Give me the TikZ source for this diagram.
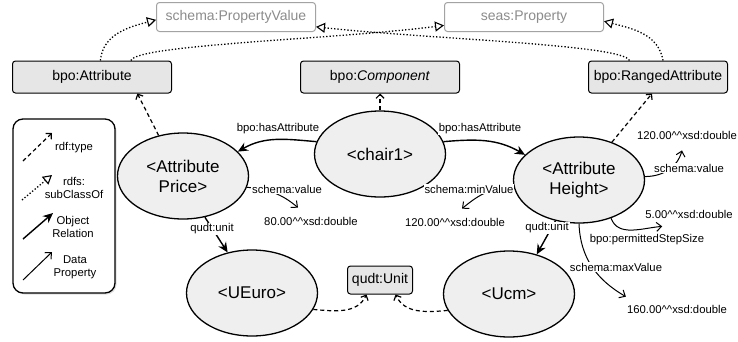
\documentclass[tikz,border=0pt]{standalone}
\usepackage{fontspec}
\setmainfont{Liberation Sans}
\usetikzlibrary{arrows.meta,shapes.geometric,shadows}

\definecolor{boxgray}{HTML}{E6E6E6}
\definecolor{ellgray}{HTML}{EFEFEF}
\definecolor{extgray}{HTML}{8C8C8C}

\tikzset{
  classbox/.style={draw=black, fill=boxgray, rounded corners=3pt, line width=1pt,
    minimum width=159pt, minimum height=32pt, inner sep=2pt, font=\fontsize{14}{16}\selectfont},
  extbox/.style={classbox, draw=extgray!80, fill=white, text=extgray, minimum height=29pt},
  inst/.style={ellipse, draw=black, fill=ellgray, line width=1.3pt, align=center,
    minimum width=131pt, minimum height=86pt, font=\fontsize{17}{20}\selectfont},
  lit/.style={inner sep=1pt, font=\fontsize{11.3}{13}\selectfont},
  elbl/.style={lit, fill=white},
  legtxt/.style={align=center, inner sep=0pt, font=\fontsize{11.3}{13}\selectfont},
  objrel/.style={draw=black, line width=1.4pt, -{Stealth[length=10pt,width=9pt]}},
  datarel/.style={draw=black, line width=1pt, -{Straight Barb[length=5pt,width=9pt]}},
  typerel/.style={draw=black, line width=1.2pt, dash pattern=on 4pt off 3pt, -{Straight Barb[length=4pt,width=8pt]}},
  subrel/.style={draw=black, line width=1.3pt, dash pattern=on 1.3pt off 2pt, -{Triangle[open,length=9pt,width=10pt,line width=1.1pt]}},
}

\begin{document}
\begin{tikzpicture}[x=1pt,y=-1pt]
    \useasboundingbox (0,0) rectangle (738,341);

     % classes
     \node[extbox] (PV) at (236,17) {schema:PropertyValue};
     \node[extbox] (SP) at (524,17) {seas:Property};
     \node[classbox] (BA) at (92,77) {bpo:Attribute};
     \node[classbox] (BC) at (380,77) {bpo:\textit{Component}};
     \node[classbox, minimum width=139pt] (BR) at (658,77) {bpo:RangedAttribute};
     \node[classbox, minimum width=65pt, minimum height=28pt] (QU) at (380,280) {qudt:Unit};

     % instances
     \node[inst] (CH) at (380,154) {<chair1>};
     \node[inst] (AP) at (183,176) {<Attribute\\Price>};
     \node[inst] (AH) at (579,180) {<Attribute\\Height>};
     \node[inst] (UE) at (252,293) {<UEuro>};
     \node[inst] (UC) at (509,294) {<Ucm>};

     % literals
     \node[lit] (V80)  at (311,221) {80.00\textasciicircum\textasciicircum xsd:double};
     \node[lit] (V120a) at (455,222) {120.00\textasciicircum\textasciicircum xsd:double};
     \node[lit] (V120b) at (687,135) {120.00\textasciicircum\textasciicircum xsd:double};
     \node[lit] (V5)   at (689,214) {5.00\textasciicircum\textasciicircum xsd:double};
     \node[lit] (V160) at (677,309) {160.00\textasciicircum\textasciicircum xsd:double};

     % subclass links
     \draw [subrel] (BA.63) to[out=85,in=195] (PV.-178);
     \draw [subrel] (BA.23) .. controls +(6,-16) and +(-110,14) .. (SP.-174);
     \draw [subrel] (BR.150) .. controls +(-6,-16) and +(110,12) .. (PV.-7);
     \draw [subrel] (BR.73) to[out=100,in=-15] (SP.-3);

     % types
     \draw [typerel] (CH.north) -- (BC.south);
     \draw [typerel] (AP.121) -- (BA.-20);
     \draw [typerel] (AH.49) -- (BR.-110);
     \draw [typerel] (UE.-15) to[out=-5,in=-115] (QU.-133);
     \draw [typerel] (UC.195) to[out=185,in=-65] (QU.-43);

     % object relations
     \draw [objrel] (CH.169) to[out=175,in=30] (AP.24);
     \draw [objrel] (CH.11) to[out=5,in=150] (AH.155);
     \draw [objrel] (AP.-62) -- (UE.121);
     \draw [objrel] (AH.-120) -- (UC.55);

     % data properties
     \draw [datarel] (AP.-10) to[out=-5,in=140] ([xshift=-13pt,yshift=8pt]V80.north);
     \draw [datarel] (AH.185) to[out=185,in=40] ([xshift=7pt,yshift=8pt]V120a.north);
     \draw [datarel] (AH.3) to[out=0,in=-105] ([xshift=-5pt,yshift=-10pt]V120b.south);
     \draw [datarel] (AH.-50) to[out=-70,in=185] ([xshift=18pt,yshift=-7pt]V5.south west);
     \draw [datarel] (AH.-90) to[out=-88,in=150] ([yshift=7pt]V160.north west);

     % edge labels
     \node[elbl] (L1) at (278,129) {bpo:hasAttribute};
     \node[elbl] (L2) at (480,129) {bpo:hasAttribute};
     \node[elbl] (L3) at (287,189) {schema:value};
     \node[elbl] (L4) at (469,189) {schema:minValue};
     \node[elbl] (L5) at (689,168) {schema:value};
     \node[lit]  (L6) at (647,240) {bpo:permittedStepSize};
     \node[elbl] (L7) at (616,267) {schema:maxValue};
     \node[elbl] (L8) at (212,229) {qudt:unit};
     \node[elbl] (L9) at (547,228) {qudt:unit};

     % legend
     \node[draw=black, fill=white, rounded corners=10pt, line width=1.3pt,
       minimum width=102pt, minimum height=174pt,
       drop shadow={shadow xshift=1.5pt, shadow yshift=-1.5pt, fill=gray!50}] (LG) at (64,206) {};
     \coordinate (T1) at (23,161);  \coordinate (T2) at (52,133);
     \coordinate (S1) at (22,200);  \coordinate (S2) at (52,175);
     \coordinate (O1) at (23,239);  \coordinate (O2) at (53,213);
     \coordinate (D1) at (23,280);  \coordinate (D2) at (52,252);
     \draw [typerel] (T1) -- (T2);
     \draw [subrel] (S1) -- (S2);
     \draw [objrel] (O1) -- (O2);
     \draw [datarel] (D1) -- (D2);
     \node[legtxt] (LT1) at (74,148) {rdf:type};
     \node[legtxt] (LT2) at (74,187.5) {rdfs:\\subClassOf};
     \node[legtxt] (LT3) at (73,226.5) {Object\\Relation};
     \node[legtxt] (LT4) at (75,267.5) {Data\\Property};

\end{tikzpicture}
\end{document}
